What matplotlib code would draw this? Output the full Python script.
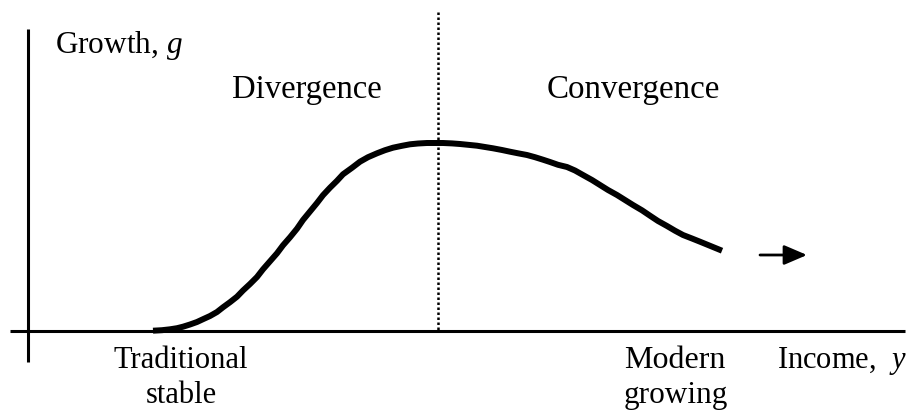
import matplotlib
matplotlib.use("Agg")
import matplotlib.pyplot as plt

plt.rcParams['font.family'] = ['Liberation Serif', 'DejaVu Serif']
plt.rcParams['mathtext.fontset'] = 'custom'
plt.rcParams['mathtext.rm'] = 'Liberation Serif'
plt.rcParams['mathtext.it'] = 'Liberation Serif:italic'

# Curve (pixel-like coordinates, y downward)
curve_x = [153, 162, 170, 177, 183, 190, 197, 203, 210, 217, 223, 230, 237, 243,
           250, 257, 263, 270, 277, 283, 290, 297, 303, 310, 317, 323, 330, 337,
           343, 352, 360, 368, 377, 385, 393, 402, 410, 418, 427, 435, 443, 452,
           460, 468, 477, 485, 493, 502, 510, 518, 527, 535, 543, 550, 558, 567,
           575, 583, 592, 600, 608, 617, 625, 633, 642, 650, 658, 667, 675, 683,
           692, 700, 711, 722]
curve_y = [330.7, 330.2, 329.3, 328.2, 326.7, 324.5, 322, 319.2, 316, 312, 307.3,
           302.2, 296.7, 290.5, 284, 277, 269.3, 261.3, 253.3, 245.3, 237.3, 228.7,
           220, 211.5, 203, 195.2, 187.7, 180.8, 174.3, 167.8, 161.7, 157.2, 153.3,
           150.2, 147.7, 145.8, 144.3, 143.5, 143, 143, 143, 143.4, 144, 144.8,
           145.7, 147, 148.3, 150, 151.7, 153.3, 155, 157.2, 159.7, 162, 164.8, 167,
           170.5, 175, 180, 185, 190, 195, 200, 205, 210.3, 215.7, 221, 226, 230.7,
           235, 238.5, 241.7, 246.2, 250.7]

divider_x = 438
labels = {
    "growth": "Growth, $g$",
    "div": "Divergence",
    "conv": "Convergence",
    "trad1": "Traditional",
    "trad2": "stable",
    "mod1": "Modern",
    "mod2": "growing",
    "income": "Income,  $y$",
}

fig = plt.figure(figsize=(9.14, 4.12), dpi=100)
ax = fig.add_axes([0, 0, 1, 1])
ax.set_xlim(0, 914)
ax.set_ylim(412, 0)
ax.axis('off')

# axes lines
ax.plot([28, 28], [29, 362], color='black', lw=2.2, solid_capstyle='butt')
ax.plot([10, 905], [331, 331], color='black', lw=2.2, solid_capstyle='butt')

# dotted divider
ax.plot([divider_x, divider_x], [12, 331], color='black', lw=1.8,
        linestyle=(0, (1, 1)))

# curve
ax.plot(curve_x, curve_y, color='black', lw=4.3, solid_capstyle='butt',
        solid_joinstyle='round')

# arrow
ax.annotate('', xy=(807, 255), xytext=(760, 255),
            arrowprops=dict(arrowstyle='-|>,head_length=1.4,head_width=0.6',
                            color='black', lw=2.0, shrinkA=0, shrinkB=0))

ax.text(55, 53, labels["growth"], fontsize=22.5, ha='left', va='baseline')
ax.text(232, 98, labels["div"], fontsize=23.5, ha='left', va='baseline')
ax.text(547, 98, labels["conv"], fontsize=23.8, ha='left', va='baseline')
ax.text(113, 368, labels["trad1"], fontsize=22, ha='left', va='baseline')
ax.text(181, 403, labels["trad2"], fontsize=22, ha='center', va='baseline')
ax.text(624, 368, labels["mod1"], fontsize=23, ha='left', va='baseline')
ax.text(624, 403, labels["mod2"], fontsize=22.5, ha='left', va='baseline')
ax.text(777, 368, labels["income"], fontsize=22, ha='left', va='baseline')

fig.savefig('out.png', dpi=100)
